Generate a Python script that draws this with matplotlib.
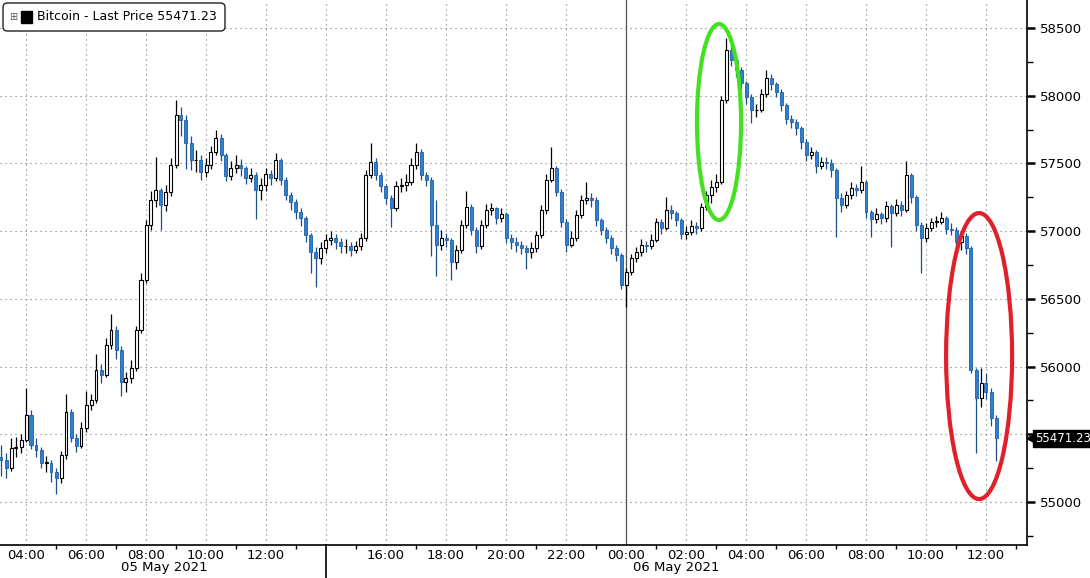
import numpy as np
import matplotlib
matplotlib.use("Agg")
import matplotlib.pyplot as plt
from matplotlib.patches import Ellipse, FancyBboxPatch, Rectangle

# 10-minute candles, Bitcoin, 05 May 2021 03:10 -> 06 May 2021 12:20 (hours since 05 May 00:00)
start_hour = 3 + 10 / 60
step_hour = 10 / 60
first_open = 55330

close = [55310, 55250, 55400, 55405, 55460, 55645, 55420, 55385, 55290, 55290,
         55220, 55175, 55345, 55665, 55475, 55415, 55545, 55715, 55755, 55975,
         55940, 56160, 56270, 56125, 55885, 55915, 55990, 56270, 56640, 57045,
         57230, 57305, 57195, 57290, 57490, 57860, 57820, 57650, 57525, 57525,
         57435, 57490, 57585, 57690, 57560, 57405, 57465, 57490, 57465, 57395,
         57415, 57305, 57340, 57420, 57395, 57525, 57380, 57265, 57215, 57140,
         57095, 56970, 56845, 56800, 56875, 56935, 56950, 56920, 56890, 56890,
         56860, 56890, 56950, 57415, 57510, 57415, 57335, 57245, 57170, 57335,
         57340, 57365, 57490, 57585, 57415, 57380, 57045, 56900, 56950, 56935,
         56770, 56860, 57045, 57180, 57010, 56890, 57045, 57155, 57170, 57095,
         57125, 56950, 56920, 56900, 56875, 56845, 56875, 56970, 57155, 57380,
         57465, 57290, 57070, 56900, 56950, 57120, 57230, 57245, 57230, 57080,
         57010, 56950, 56875, 56825, 56605, 56700, 56800, 56845, 56900, 56890,
         56935, 57070, 57025, 57155, 57135, 57080, 56980, 56995, 57040, 57025,
         57180, 57265, 57325, 57365, 57970, 58340, 58265, 58190, 58095, 57990,
         57895, 57895, 58015, 58130, 58085, 58030, 57930, 57830, 57805, 57760,
         57660, 57560, 57585, 57480, 57510, 57505, 57450, 57245, 57195, 57265,
         57320, 57305, 57365, 57140, 57090, 57125, 57095, 57185, 57135, 57195,
         57155, 57415, 57250, 57045, 56950, 57025, 57070, 57070, 57095, 57015,
         57010, 56920, 56965, 56875, 55975, 55770, 55880, 55810, 55620, 55471.23]

high = [55420, 55360, 55470, 55480, 55500, 55840, 55680, 55470, 55410, 55340,
        55310, 55250, 55380, 55800, 55690, 55500, 55590, 55820, 55800, 56090,
        56020, 56210, 56390, 56300, 56150, 55960, 56050, 56300, 56690, 57080,
        57300, 57550, 57320, 57340, 57540, 57970, 57920, 57860, 57700, 57600,
        57560, 57540, 57630, 57750, 57720, 57580, 57520, 57560, 57530, 57480,
        57470, 57440, 57390, 57470, 57450, 57580, 57540, 57400, 57290, 57240,
        57170, 57110, 56990, 56880, 56920, 56980, 57000, 56980, 56950, 56940,
        56920, 56930, 56990, 57450, 57650, 57540, 57440, 57350, 57270, 57370,
        57390, 57420, 57540, 57650, 57610, 57440, 57400, 57230, 57010, 56990,
        56950, 56900, 57080, 57300, 57200, 57030, 57080, 57200, 57210, 57180,
        57170, 57140, 56980, 56960, 56930, 56900, 56920, 57000, 57190, 57420,
        57620, 57480, 57310, 57090, 57000, 57160, 57270, 57360, 57280, 57250,
        57100, 57030, 56970, 56900, 56840, 56730, 56830, 56880, 56940, 56930,
        56980, 57100, 57090, 57250, 57190, 57150, 57100, 57040, 57080, 57070,
        57210, 57300, 57380, 57420, 58000, 58430, 58380, 58290, 58210, 58110,
        58010, 57940, 58050, 58190, 58160, 58100, 58050, 57950, 57860, 57830,
        57780, 57680, 57620, 57600, 57550, 57550, 57530, 57470, 57280, 57300,
        57360, 57350, 57480, 57380, 57160, 57170, 57140, 57220, 57200, 57240,
        57220, 57520, 57430, 57270, 57070, 57060, 57100, 57110, 57140, 57110,
        57060, 57030, 57000, 56990, 56890, 55990, 55990, 55950, 55840, 55640]

low = [55190, 55180, 55230, 55330, 55360, 55440, 55390, 55330, 55250, 55220,
       55150, 55060, 55140, 55320, 55440, 55370, 55400, 55520, 55680, 55730,
       55880, 55920, 56130, 56060, 55780, 55810, 55880, 55970, 56250, 56620,
       57010, 57180, 57010, 57150, 57260, 57470, 57700, 57460, 57450, 57440,
       57380, 57400, 57460, 57560, 57520, 57370, 57380, 57430, 57410, 57350,
       57360, 57090, 57230, 57300, 57340, 57370, 57340, 57230, 57160, 57090,
       57040, 56920, 56690, 56590, 56760, 56840, 56900, 56870, 56840, 56840,
       56820, 56840, 56860, 56930, 57390, 57380, 57290, 57200, 57030, 57150,
       57290, 57300, 57340, 57460, 57380, 57330, 56820, 56670, 56860, 56880,
       56640, 56720, 56840, 57020, 56970, 56840, 56870, 57020, 57120, 57050,
       57070, 56910, 56870, 56850, 56830, 56720, 56800, 56850, 56950, 57130,
       57360, 57260, 57030, 56850, 56880, 56930, 57100, 57200, 57180, 57040,
       56970, 56910, 56830, 56780, 56570, 56440, 56680, 56770, 56820, 56850,
       56870, 56920, 56980, 57010, 57090, 57040, 56940, 56940, 56970, 56980,
       57000, 57160, 57210, 57290, 57350, 57950, 58220, 58140, 58050, 57940,
       57800, 57840, 57880, 57990, 58040, 57990, 57890, 57790, 57760, 57710,
       57610, 57520, 57530, 57430, 57460, 57460, 57400, 56960, 57140, 57170,
       57240, 57260, 57280, 57100, 56960, 57060, 57050, 57070, 56880, 57110,
       57110, 57140, 57210, 57000, 56690, 56920, 57000, 57030, 57050, 56980,
       56970, 56880, 56860, 56830, 55950, 55360, 55700, 55760, 55560, 55300]

last_price = 55471.23
up_color = "white"
down_color = "#2f80d0"

plt.rcParams["font.family"] = ["DejaVu Sans"]

c = np.array(close, dtype=float)
o = np.concatenate([[first_open], c[:-1]])
h = np.array(high, dtype=float)
lo = np.array(low, dtype=float)
t = start_hour + step_hour * np.arange(len(c))
up = c >= o

fig = plt.figure(figsize=(10.9, 5.78), dpi=100)
ax = fig.add_axes([0, 1 - 545 / 578, 1027 / 1090, 545 / 578])

# candles
ax.vlines(t[up], lo[up], h[up], color="black", lw=0.9, zorder=3)
ax.vlines(t[~up], lo[~up], h[~up], color="#1b4f8a", lw=0.9, zorder=3)
w = step_hour * 0.6
ax.bar(t[up], np.maximum(c[up] - o[up], 3), bottom=o[up], width=w,
       color=up_color, edgecolor="black", lw=0.8, zorder=4)
ax.bar(t[~up], o[~up] - c[~up], bottom=c[~up], width=w,
       color=down_color, edgecolor="#1f5fa8", lw=0.6, zorder=4)

ax.set_xlim(3 + 8 / 60, 37 + 22 / 60)
ax.set_ylim(54683, 58707)

# axes look
for s in ["top", "left"]:
    ax.spines[s].set_visible(False)
ax.spines["right"].set_linewidth(1.2)
ax.spines["bottom"].set_linewidth(1.2)

ax.yaxis.tick_right()
yt = np.arange(55000, 58501, 500)
ax.set_yticks(yt)
# the 55500 label sits under the last-price tag
ax.set_yticklabels(["" if v == 55500 else str(v) for v in yt])
ax.set_yticks(np.arange(54750, 58700, 250), minor=True)
ax.tick_params(axis="y", which="major", length=6, width=1.8, pad=3, labelsize=9.5)
ax.tick_params(axis="y", which="minor", length=4, width=1)

xt = np.arange(4, 37, 2)
ax.set_xticks(xt)
ax.set_xticklabels(["" if v == 14 else f"{v % 24:02d}:00" for v in xt])
ax.set_xticks(np.arange(4, 38, 1), minor=True)
ax.tick_params(axis="x", which="major", length=0, pad=3, labelsize=9.5)
ax.tick_params(axis="x", which="minor", length=3, width=1)

ax.grid(True, which="major", ls=(0, (1, 3.5)), color="#777777", lw=0.8)
ax.set_axisbelow(True)

# day separator and the break in the time axis
ax.axvline(24, color="#555555", lw=0.9, zorder=2)
ax.plot([14, 14], [0, -0.065], transform=ax.get_xaxis_transform(),
        clip_on=False, color="black", lw=1.2)
ax.text(8.6, -0.042, "05 May 2021", transform=ax.get_xaxis_transform(),
        ha="center", va="center", fontsize=9.5)
ax.text(25.67, -0.042, "06 May 2021", transform=ax.get_xaxis_transform(),
        ha="center", va="center", fontsize=9.5)

# last price tag
ytr = ax.get_yaxis_transform()
ax.plot([1.003], [last_price], marker="<", ms=6, color="black", transform=ytr,
        clip_on=False, zorder=10)
ax.text(1.008, last_price, f"{last_price:.2f}", transform=ytr,
        color="white", fontsize=8.5, ha="left", va="center", zorder=11,
        bbox=dict(boxstyle="square,pad=0.15", fc="black", ec="black"))

# highlight ellipses
ax.add_patch(Ellipse((27.1, 57806), 1.47, 1447, fill=False, ec="#44e022", lw=3, zorder=6))
ax.add_patch(Ellipse((35.77, 56078), 2.2, 2112, fill=False, ec="#e0202a", lw=3, zorder=6))

# legend box
W, H = 1090, 578
fig.patches.append(FancyBboxPatch((3 / W, 1 - 31 / H), 222 / W, 28 / H,
                                  boxstyle="round,pad=0,rounding_size=0.004",
                                  mutation_aspect=W / H, transform=fig.transFigure,
                                  fc="white", ec="#222222", lw=1.0, zorder=20))
fig.patches.append(Rectangle((21 / W, 1 - 23 / H), 11 / W, 12 / H,
                             transform=fig.transFigure, fc="black", ec="black", zorder=21))
fig.text(13 / W, 1 - 17 / H, "⊞", fontsize=7, color="#555555", ha="center", va="center", zorder=21)
fig.text(37 / W, 1 - 17 / H, f"Bitcoin - Last Price {last_price:.2f}", fontsize=9,
         ha="left", va="center", zorder=21)

fig.savefig("out.png", dpi=100)
